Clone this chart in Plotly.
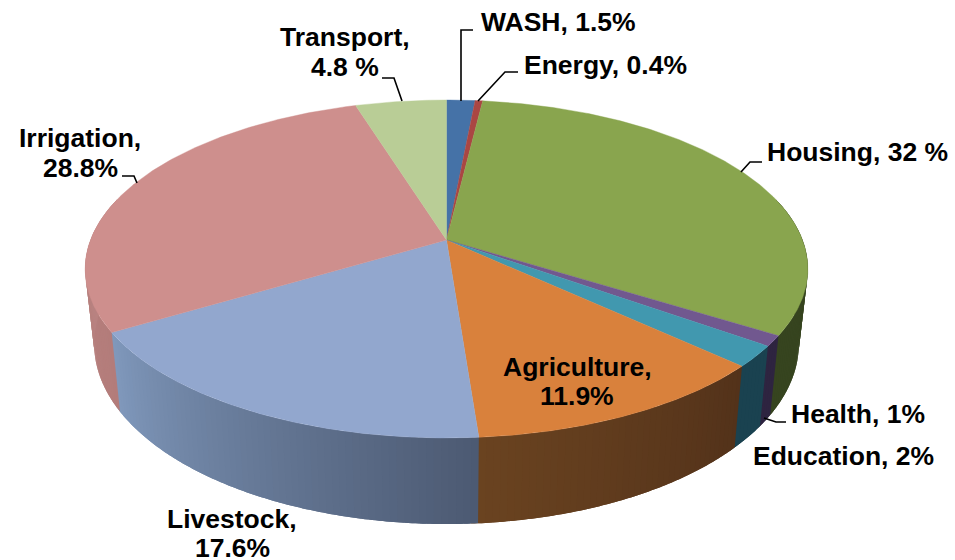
import math
import plotly.graph_objects as go

# --- data ---
categories = ["WASH", "Energy", "Housing", "Health", "Education",
              "Agriculture", "Livestock", "Irrigation", "Transport"]
values = [1.5, 0.4, 32, 1, 2, 11.9, 17.6, 28.8, 4.8]
top_colors = ["#4572A7", "#AA4643", "#89A54E", "#71588F", "#4198AF",
              "#D9813C", "#92A7CE", "#CE8F8D", "#B9CD96"]
side_start = ["#2C4A6E", "#6E2D2B", "#36441F", "#2E2440", "#1A4250",
              "#53321A", "#4C5A72", "#B37C7A", "#7A8862"]
side_end = ["#2C4A6E", "#6E2D2B", "#36441F", "#2E2440", "#1A4250",
            "#6A4320", "#8098BC", "#BC8684", "#7A8862"]
label_lines = [["WASH, 1.5%"], ["Energy, 0.4%"], ["Housing, 32 %"], ["Health, 1%"],
               ["Education, 2%"], ["Agriculture,", "11.9%"], ["Livestock,", "17.6%"],
               ["Irrigation,", "28.8%"], ["Transport,", "4.8 %"]]

# --- layout constants (pixels on the page) ---
W, H = 955, 560
CX, CY = 446.5, 240
A, B, K = 356.0, 164.0, 0.1716       # perspective ellipse of the top face
SX, SY, Y0 = 0.975, 1.066, 313       # lower rim relative to the top rim
label_pos = [[(558, 22)], [(605, 65)], [(857, 152)], [(858, 414)], [(843, 456)],
             [(577, 367), (577, 396)], [(232, 519), (232, 548)],
             [(80, 138), (80, 168)], [(345, 37), (345, 67)]]
leaders = {
    "WASH": [(461, 101), (461, 30), (473, 30)],
    "Energy": [(478, 101), (505, 72), (518, 72)],
    "Housing": [(741, 172), (750, 162), (762, 162)],
    "Health": [(764, 418), (776, 422), (786, 422)],
    "Irrigation": [(137, 183), (134, 176), (122, 176)],
    "Transport": [(402, 101), (394, 78), (382, 78)],
}


def top_pt(deg):
    t = math.radians(deg)
    w = 1 + K * math.cos(t)
    return CX + A * math.sin(t) / w, CY - B * math.cos(t) / w


def low_pt(deg):
    x, y = top_pt(deg)
    return CX + SX * (x - CX), Y0 + SY * (y - CY)


def rgb(h):
    return [int(h[i:i + 2], 16) for i in (1, 3, 5)]


def mix(a, b, f):
    ca, cb = rgb(a), rgb(b)
    return "rgb(%d,%d,%d)" % tuple(round(ca[i] + (cb[i] - ca[i]) * f) for i in range(3))


fig = go.Figure()
total = sum(values)
spans = []
acc = 0
for v in values:
    spans.append((acc / total * 360, (acc + v) / total * 360))
    acc += v

# side walls, gradient drawn as thin overlapping strips
for i, (a0, a1) in enumerate(spans):
    if a1 <= 75 or a0 >= 285:
        continue
    lo, hi = max(a0, 75), min(a1, 285)
    n = max(1, int(round(hi - lo)))
    for j in range(n):
        d0 = lo + (hi - lo) * j / n
        d1 = min(lo + (hi - lo) * (j + 2) / n, 285)
        steps = [d0 + (d1 - d0) * s / 4 for s in range(5)]
        pts = [top_pt(d) for d in steps] + [low_pt(d) for d in reversed(steps)]
        pts.append(pts[0])
        c = mix(side_start[i], side_end[i], (j + 0.5) / n)
        fig.add_trace(go.Scatter(x=[p[0] for p in pts], y=[p[1] for p in pts],
                                 mode="none", fill="toself", fillcolor=c,
                                 hoverinfo="skip"))

# top face
for i, (a0, a1) in enumerate(spans):
    n = max(2, int((a1 - a0) * 2))
    pts = [(CX, CY)] + [top_pt(a0 + (a1 - a0) * j / n) for j in range(n + 1)] + [(CX, CY)]
    fig.add_trace(go.Scatter(x=[p[0] for p in pts], y=[p[1] for p in pts],
                             mode="lines", fill="toself", fillcolor=top_colors[i],
                             line=dict(color=top_colors[i], width=0.4),
                             name=categories[i], hoverinfo="name"))

# leader lines
for name, pts in leaders.items():
    fig.add_trace(go.Scatter(x=[p[0] for p in pts], y=[p[1] for p in pts], mode="lines",
                             line=dict(color="#000000", width=1.6), hoverinfo="skip"))

# labels
anns = []
for lines, poss in zip(label_lines, label_pos):
    for txt, (x, y) in zip(lines, poss):
        anns.append(dict(x=x, y=y, xref="x", yref="y", text="<b>%s</b>" % txt,
                         showarrow=False, xanchor="center", yanchor="middle",
                         font=dict(family="Liberation Sans", size=26.5, color="#000000")))

fig.update_layout(width=W, height=H, margin=dict(l=0, r=0, t=0, b=0), showlegend=False,
                  paper_bgcolor="white", plot_bgcolor="white", annotations=anns,
                  xaxis=dict(range=[0, W], visible=False, fixedrange=True),
                  yaxis=dict(range=[H, 0], visible=False, fixedrange=True))
fig.write_html("out.html", config=dict(displayModeBar=False),
               post_script="document.body.style.margin='0';document.documentElement.style.overflow='hidden';")
